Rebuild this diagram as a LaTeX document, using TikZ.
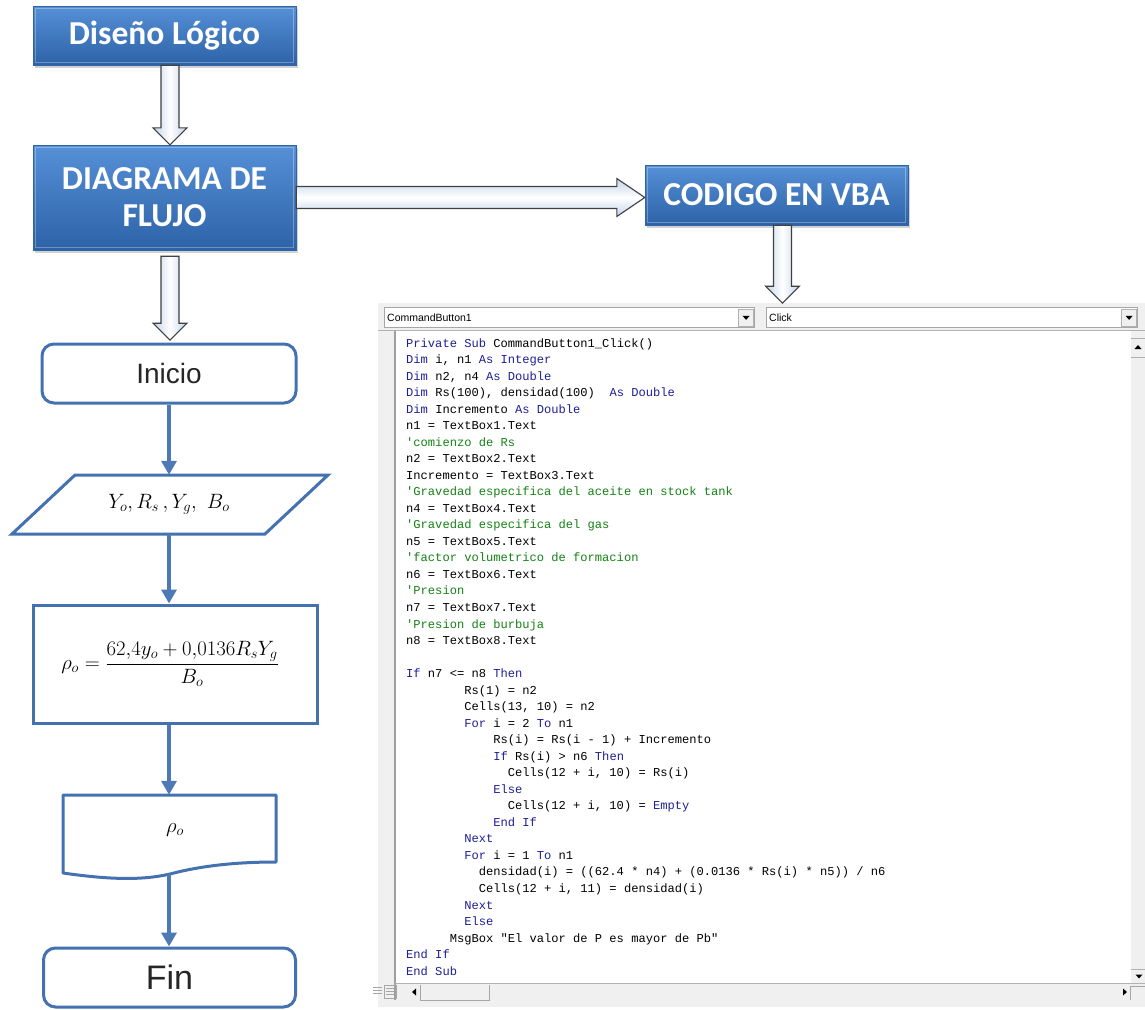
\documentclass[tikz,border=0pt]{standalone}
\usepackage{fontspec}
\usepackage{amsmath}
\setmonofont{Liberation Mono}
\newfontfamily\boxfont{Carlito}
\newfontfamily\sansf{Liberation Sans}
\usetikzlibrary{calc,arrows.meta,shadows}
\definecolor{boxtop}{RGB}{86,144,214}
\definecolor{boxbot}{RGB}{44,98,168}
\definecolor{boxborder}{RGB}{50,100,165}
\definecolor{arrowside}{RGB}{196,212,234}
\definecolor{flowblue}{RGB}{68,114,176}
\definecolor{kw}{RGB}{30,30,150}
\definecolor{cm}{RGB}{20,130,20}
\definecolor{winbg}{RGB}{240,240,240}
\newcommand\K[1]{\textcolor{kw}{#1}}
\newcommand\Cm[1]{\textcolor{cm}{#1}}
\newcommand\cl[3]{\node[codeline] (l#1) at ({406+#2*7.26},{347+16.53*(#1-1)}) {#3};}
\newcommand\blockdown[2]{\path let \p1=(#1), \p2=(#2) in [barrow, left color=arrowside, right color=arrowside, middle color=white]
  (\x1-9pt,\y1) -- (\x1-9pt,\y2+17pt) -- (\x1-17pt,\y2+17pt) -- (\x1,\y2) -- (\x1+17pt,\y2+17pt) -- (\x1+9pt,\y2+17pt) -- (\x1+9pt,\y1) -- cycle;}
\newcommand\blockright[2]{\path let \p1=(#1), \p2=(#2) in [barrow, top color=arrowside, bottom color=arrowside, middle color=white]
  (\x1,\y1+11pt) -- (\x2-28pt,\y1+11pt) -- (\x2-28pt,\y1+19pt) -- (\x2,\y1) -- (\x2-28pt,\y1-19pt) -- (\x2-28pt,\y1-11pt) -- (\x1,\y1-11pt) -- cycle;}
\begin{document}
\begin{tikzpicture}[x=1pt,y=-1pt,
  bluebox/.style={draw=boxborder, top color=boxtop, bottom color=boxbot, text=white,
    font=\boxfont\bfseries\fontsize{33.5}{38}\selectfont, align=center, minimum width=263,
    drop shadow={opacity=0.35, shadow xshift=2pt, shadow yshift=-3pt}},
  barrow/.style={draw=black!75, line width=1.1pt, line join=miter},
  flowbox/.style={draw=flowblue, line width=3pt, fill=white},
  flowarrow/.style={draw=flowblue!95!white, line width=3.5pt, -{Triangle[width=15pt,length=14pt]}},
  flowtext/.style={font=\sansf\fontsize{28}{32}\selectfont, text=black!85},
  mathtext/.style={font=\fontsize{22}{26}\selectfont},
  codeline/.style={anchor=base west, inner sep=0pt, font=\ttfamily\fontsize{12.1}{14}\selectfont},
  combo/.style={draw=gray!70, fill=white, line width=0.8pt, inner sep=0pt},
  combotext/.style={anchor=west, inner sep=0pt, font=\sansf\fontsize{10.5}{12}\selectfont},
  btn/.style={draw=gray!60, fill=winbg, inner sep=0pt, minimum width=15, minimum height=17}
]
\useasboundingbox (0,0) rectangle (1145,1009);
\fill[white] (0,0) rectangle (1145,1009);

% ---- top blue boxes ----
\node[bluebox, minimum height=59] (d1) at (164.5,35.5) {Diseño Lógico};
\node[bluebox, minimum height=105] (d2) at (164.5,197.5) {DIAGRAMA DE\\[-1pt]FLUJO};
\node[bluebox, minimum height=60] (d3) at (776.5,195) {CODIGO EN VBA};
\foreach \b in {d1,d2,d3}
  \draw[white, opacity=0.3, line width=1pt] ([shift={(3,3)}]\b.north west) rectangle ([shift={(-3,-3)}]\b.south east);

% ---- block arrows ----
\coordinate (a1s) at ($(d1.south)+(5.5,0)$);
\coordinate (a1e) at (a1s |- d2.north);
\blockdown{a1s}{a1e}
\coordinate (a2s) at ($(d2.south)+(5.5,6)$);
\coordinate (a2e) at ($(a2s)+(0,84)$);
\blockdown{a2s}{a2e}
\coordinate (a3s) at (d2.east);
\coordinate (a3e) at (d3.west |- d2.east);
\blockright{a3s}{a3e}
\coordinate (a4s) at ($(d3.south)+(6,0)$);
\coordinate (a4e) at ($(a4s)+(0,78)$);

% ---- flowchart ----
\node[flowbox, rounded corners=12pt, minimum width=254, minimum height=59, flowtext] (ini) at (169,373.5) {Inicio};
\draw[flowbox] (75,475) -- (328,475) -- (265,534) -- (12,534) -- cycle;
\node[minimum width=190, minimum height=59, mathtext] (par) at (169,504.5) {$Y_o, R_s\,, Y_g,\ B_o$};
\node[flowbox, minimum width=284, minimum height=118, mathtext] (proc) at (175,664) {};
\node[mathtext] (form) at (170,664) {$\rho_o = \dfrac{62{,}4y_o + 0{,}0136R_sY_g}{B_o}$};
\draw[flowbox, line join=round] (63,795) -- (276,795) -- (276,862) .. controls (235,862) and (200,866) .. (170,874) .. controls (140,881) and (105,879) .. (63,873) -- cycle;
\node[minimum width=213, minimum height=79, mathtext] (doc) at (169.5,834.5) {};
\node[mathtext] (rho) at (175,830) {$\rho_o$};
\node[flowbox, rounded corners=12pt, minimum width=252, minimum height=59, flowtext, font=\sansf\fontsize{34}{38}\selectfont] (fin) at (169.5,977.5) {Fin};

\draw[flowarrow] (ini.south) -- (ini.south |- par.north);
\draw[flowarrow] (ini.south |- par.south) -- (ini.south |- proc.north);
\draw[flowarrow] (ini.south |- proc.south) -- (ini.south |- doc.north);
\draw[flowarrow] (ini.south |- doc.south) -- (ini.south |- fin.north);

% ---- code window ----
\node[fill=winbg, anchor=north west, minimum width=767, minimum height=704, inner sep=0pt] (win) at (378,303) {};
\node[combo, anchor=north west, minimum width=370, minimum height=20] (cb1) at (384,307) {};
\node[combotext] (cb1t) at ($(cb1.west)+(3,0)$) {CommandButton1};
\node[btn, anchor=east] (cb1b) at ($(cb1.east)+(-1,0)$) {};
\fill ($(cb1b.center)+(-3.5,-1.5)$) -- ++(7,0) -- ++(-3.5,4) -- cycle;
\node[combo, anchor=north west, minimum width=371, minimum height=20] (cb2) at (766,307) {};
\node[combotext] (cb2t) at ($(cb2.west)+(3,0)$) {Click};
\node[btn, anchor=east] (cb2b) at ($(cb2.east)+(-1,0)$) {};
\fill ($(cb2b.center)+(-3.5,-1.5)$) -- ++(7,0) -- ++(-3.5,4) -- cycle;
\draw[gray!60, line width=1pt] (378,330) -- (1145,330);

\node[fill=white, anchor=north west, minimum width=767, minimum height=652, inner sep=0pt] (code) at (378,331) {};
\fill[winbg] (378,331) rectangle (395,983);
\draw[gray!75, line width=1.5pt] (395,331) -- (395,1000);
% vertical scrollbar
\fill[winbg] (1131,331) rectangle (1145,983);
\draw[gray!60, line width=1pt] (1131,338) -- (1145,338);
\draw[gray!60, line width=1pt] (1131,357) -- (1145,357);
\fill ($(1138,347)+(-3.5,2)$) -- ++(7,0) -- ++(-3.5,-4) -- cycle;
\draw[gray!60, line width=1pt] (1131,969) -- (1145,969);
\fill ($(1139,976)+(-3.5,-1.5)$) -- ++(7,0) -- ++(-3.5,4) -- cycle;
% bottom bar
\draw[gray!60, line width=1pt] (395,983) -- (1145,983);
\draw[gray!70, line width=1pt] (373,987) -- (382,987) (373,990) -- (382,990) (373,993) -- (382,993);
\draw[gray!70, line width=0.8pt] (384,985) rectangle (396,998);
\draw[gray!70, line width=0.8pt] (386,988) -- (394,988) (386,991) -- (394,991) (386,994) -- (394,994);
\fill (412,992) -- ++(4,-3.5) -- ++(0,7) -- cycle;
\draw[gray!70, line width=1pt] (420,985) -- (420,1000) -- (489,1000) -- (489,985);
\fill (1123,988.5) -- ++(4,3.5) -- ++(-4,3.5) -- cycle;
\draw[gray!70, line width=1pt] (1130,1000) -- (1130,986) -- (1145,986);

% code lines
\cl{1}{0}{\K{Private Sub} CommandButton1\_Click()}
\cl{2}{0}{\K{Dim} i, n1 \K{As Integer}}
\cl{3}{0}{\K{Dim} n2, n4 \K{As Double}}
\cl{4}{0}{\K{Dim} Rs(100), densidad(100)~~\K{As Double}}
\cl{5}{0}{\K{Dim} Incremento \K{As Double}}
\cl{6}{0}{n1 = TextBox1.Text}
\cl{7}{0}{\Cm{'comienzo de Rs}}
\cl{8}{0}{n2 = TextBox2.Text}
\cl{9}{0}{Incremento = TextBox3.Text}
\cl{10}{0}{\Cm{'Gravedad especifica del aceite en stock tank}}
\cl{11}{0}{n4 = TextBox4.Text}
\cl{12}{0}{\Cm{'Gravedad especifica del gas}}
\cl{13}{0}{n5 = TextBox5.Text}
\cl{14}{0}{\Cm{'factor volumetrico de formacion}}
\cl{15}{0}{n6 = TextBox6.Text}
\cl{16}{0}{\Cm{'Presion}}
\cl{17}{0}{n7 = TextBox7.Text}
\cl{18}{0}{\Cm{'Presion de burbuja}}
\cl{19}{0}{n8 = TextBox8.Text}
\cl{21}{0}{\K{If} n7 <= n8 \K{Then}}
\cl{22}{8}{Rs(1) = n2}
\cl{23}{8}{Cells(13, 10) = n2}
\cl{24}{8}{\K{For} i = 2 \K{To} n1}
\cl{25}{12}{Rs(i) = Rs(i - 1) + Incremento}
\cl{26}{12}{\K{If} Rs(i) > n6 \K{Then}}
\cl{27}{14}{Cells(12 + i, 10) = Rs(i)}
\cl{28}{12}{\K{Else}}
\cl{29}{14}{Cells(12 + i, 10) = \K{Empty}}
\cl{30}{12}{\K{End If}}
\cl{31}{8}{\K{Next}}
\cl{32}{8}{\K{For} i = 1 \K{To} n1}
\cl{33}{10}{densidad(i) = ((62.4 * n4) + (0.0136 * Rs(i) * n5)) / n6}
\cl{34}{10}{Cells(12 + i, 11) = densidad(i)}
\cl{35}{8}{\K{Next}}
\cl{36}{8}{\K{Else}}
\cl{37}{6}{MsgBox "El valor de P es mayor de Pb"}
\cl{38}{0}{\K{End If}}
\cl{39}{0}{\K{End Sub}}

% arrow from CODIGO drawn last so its tip overlaps the window edge
\blockdown{a4s}{a4e}
\end{tikzpicture}
\end{document}
